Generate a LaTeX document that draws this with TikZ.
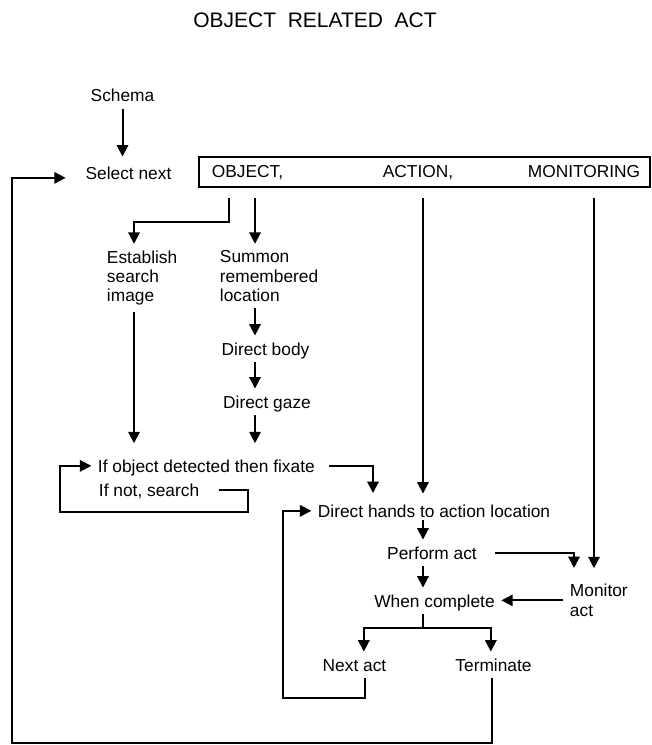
\documentclass[tikz,border=0pt]{standalone}
\usepackage{fontspec}
\setmainfont{Liberation Sans}
\usepackage{tikz}
\usetikzlibrary{arrows.meta}

\tikzset{
  lbl/.style={font=\fontsize{13}{14.6}\selectfont, inner sep=0pt, outer sep=5pt, text height=9.6pt, text depth=0.4pt, anchor=base},
  blk/.style={font=\fontsize{13}{14.6}\selectfont, inner sep=0pt, outer sep=5pt, align=left, anchor=north west},
  hdr/.style={font=\fontsize{15.75}{19}\selectfont, anchor=base},
  bar/.style={draw, line width=2pt, minimum width=338.25pt, minimum height=22.5pt, inner sep=0pt}
}

\begin{document}
\begin{tikzpicture}[x=0.75pt, y=-0.75pt, line width=1.5pt, >={Triangle[length=8.5pt,width=8.5pt]}]

        \useasboundingbox (0,0) rectangle (652,745);

        \node[hdr] (title) at (315,28) {OBJECT\ \ RELATED\ \ ACT};

        \node[lbl] (schema) at (122.5,102) {Schema};
        \node[lbl] (sel) at (128.5,180) {Select next};
        \node[bar] (box) at (424.5,172) {};
        \node[lbl] (obj) at (247.5,178) {OBJECT,};
        \node[lbl] (act) at (418,178) {ACTION,};
        \node[lbl] (mon) at (584,178) {MONITORING};

        \node[blk] (estab) at (100.3,243.8) {Establish\\search\\image};
        \node[blk] (summon) at (213.3,243.8) {Summon\\remembered\\location};
        \node[lbl] (body) at (265.5,355) {Direct body};
        \node[lbl] (gaze) at (267,408) {Direct gaze};
        \node[lbl, anchor=base west] (fix) at (91.3,472) {If object detected then fixate};
        \node[lbl, anchor=base west] (search) at (92.3,496) {If not, search};
        \node[lbl, anchor=base west] (hands) at (311.3,517) {Direct hands to action location};
        \node[lbl] (perf) at (432,559) {Perform act};
        \node[blk] (monact) at (563.3,577.6) {Monitor\\act};
        \node[lbl] (done) at (434.5,607) {When complete};
        \node[lbl] (next) at (354.5,671) {Next act};
        \node[lbl] (term) at (493.5,671) {Terminate};

        \coordinate (tapO) at (229,198);
        \coordinate (tapS) at (255,198);
        \coordinate (tapA) at (423,198);
        \coordinate (tapM) at (594,198);
        \coordinate (split) at (134,222);
        \coordinate (join) at (373,493);
        \coordinate (sr) at (248,512);
        \coordinate (sl) at (60,512);
        \coordinate (mtip) at (574,568);
        \coordinate (fork) at (423,628);
        \coordinate (nb) at (283,698);
        \coordinate (lb) at (12,743);

        \draw[->, shorten >=3pt] (schema.south) -- (schema.south |- sel.north);
        \draw[->, shorten >=10pt] ([xshift=-1pt]term.south) |- (lb) |- ([yshift=-3pt]sel.west);

        \draw[->] (tapO) |- (split) -- (split |- estab.north);
        \draw[->] (tapS) -- (tapS |- summon.north);
        \draw[->, shorten >=3pt] (tapA) -- (tapA |- hands.north);
        \draw[->, shorten >=7pt] (tapM) -- (tapM |- monact.north);

        \draw[->] (summon.south -| tapS) -- (tapS |- body.north);
        \draw[->] (body.south -| tapS) -- (tapS |- gaze.north);
        \draw[->, shorten >=7pt] (gaze.south -| tapS) -- (tapS |- fix.north);
        \draw[->, shorten >=7pt] (estab.south -| split) -- (split |- fix.north);

        \draw[->, shorten <=6pt] (fix.east) -| (join);
        \draw[->, shorten <=10pt] (search.east) -| (sr) -- (sl) |- (fix.west);

        \draw[->, shorten <=-3pt] (hands.south -| tapA) -- (tapA |- perf.north);
        \draw[->] (perf.south -| tapA) -- (tapA |- done.north);
        \draw[->, shorten <=8.6pt] (perf.east) -| (mtip);
        \draw[->] (monact.west) -- (monact.west -| done.east);

        \draw (done.south -| fork) -- (fork);
        \draw[->] (fork) -| ([xshift=7pt]next.north);
        \draw[->] (fork) -| ([xshift=-2pt]term.north);
        \draw[->] ([xshift=7.5pt]next.south) |- (nb) |- (hands.west);

\end{tikzpicture}
\end{document}
